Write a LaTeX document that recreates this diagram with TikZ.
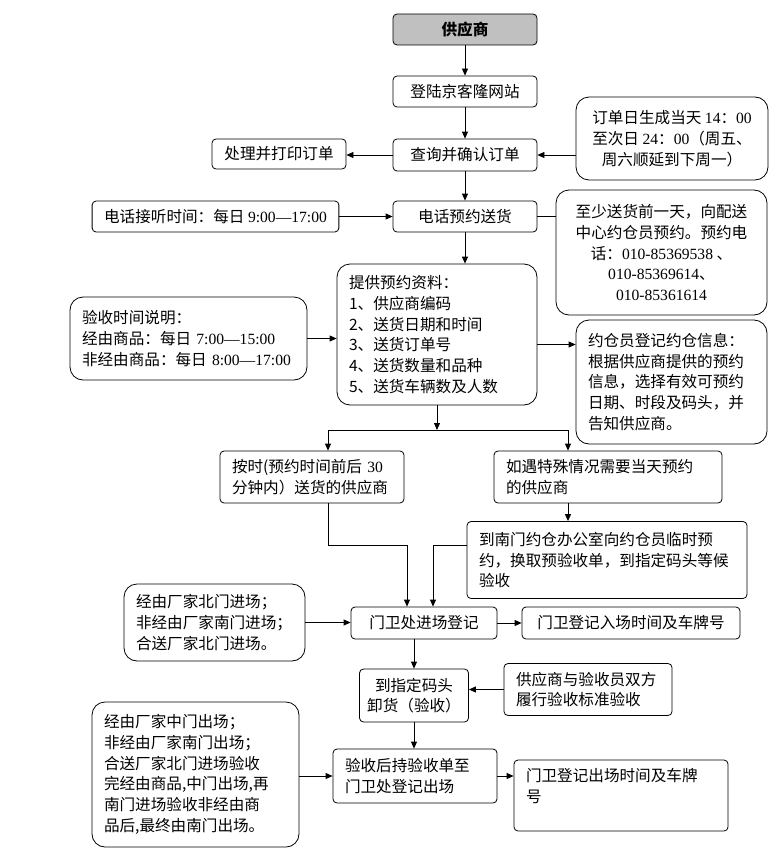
\documentclass[tikz,border=0pt]{standalone}
\usepackage{fontspec}
\setmainfont{Noto Sans CJK SC}
\newfontfamily\tnr{Liberation Serif}
\usetikzlibrary{arrows.meta}
\definecolor{hdgray}{RGB}{192,192,192}
\newcommand\dig[1]{{\tnr #1}}

\begin{document}
\begin{tikzpicture}[x=1pt,y=-1pt,line width=0.8pt,
  every node/.style={font=\fontsize{15.6}{20.7}\selectfont},
  box/.style={draw,rounded corners=4pt,inner xsep=12pt,inner ysep=0pt,align=center},
  note/.style={rounded corners=13pt},
  lbox/.style={box,align=left},
  >={Triangle[length=7pt,width=6pt]}]
\useasboundingbox (0,0) rectangle (780,859);

% main column
\node[box,fill=hdgray,minimum width=144,minimum height=31] (m1) at (465,29.5) {\textbf{供应商}};
\node[box,minimum width=144,minimum height=31] (m2) at (465,91.5) {登陆京客隆网站};
\node[box,minimum width=144,minimum height=32] (m3) at (465,155) {查询并确认订单};
\node[box,minimum width=144,minimum height=31] (m4) at (465,216.5) {电话预约送货};
\node[lbox,note,text width=176pt,minimum height=141] (m5) at (437,334.5)
  {提供预约资料：\\1、供应商编码\\2、送货日期和时间\\3、送货订单号\\4、送货数量和品种\\5、送货车辆数及人数};
\node[box,minimum width=146,minimum height=32] (m6) at (424,623) {门卫处进场登记};
\node[box,inner xsep=4pt,minimum width=109,minimum height=53] (m7) at (414,695.5) {到指定码头\\卸货（验收）};
\node[lbox,text width=140pt,minimum height=54] (m8) at (415,776) {验收后持验收单至\\门卫处登记出场};

% left side
\node[box,minimum width=134,minimum height=30] (l3) at (279,154) {处理并打印订单};
\node[box,minimum width=243,minimum height=31] (l4) at (215.5,216.5) {电话接听时间：每日 \dig{9:00—17:00}};
\node[lbox,note,text width=213pt,minimum height=83] (l5) at (188.5,338.5)
  {验收时间说明：\\经由商品：每日 \dig{7:00—15:00}\\非经由商品：每日 \dig{8:00—17:00}};
\node[lbox,note,text width=157pt,minimum height=77] (l6) at (214.5,622.5)
  {经由厂家北门进场；\\非经由厂家南门进场；\\合送厂家北门进场。};
\node[lbox,note,text width=183pt,minimum height=145] (l8) at (195.5,774.5)
  {经由厂家中门出场；\\非经由厂家南门出场；\\合送厂家北门进场验收\\完经由商品,中门出场,再\\南门进场验收非经由商\\品后,最终由南门出场。};

% right side
\node[box,note,minimum width=192,minimum height=83] (r3) at (672,138.5)
  {订单日生成当天 \dig{14}：\dig{00}\\至次日 \dig{24}：\dig{00}（周五、\\周六顺延到下周一）};
\node[box,note,minimum width=211,minimum height=125] (r4) at (661.5,252.5)
  {至少送货前一天，向配送\\中心约仓员预约。预约电\\话：\dig{010-85369538} 、\\\dig{010-85369614}、\\\dig{010-85361614}};
\node[lbox,note,text width=167pt,minimum height=124] (r5) at (671.5,382)
  {约仓员登记约仓信息：\\根据供应商提供的预约\\信息，选择有效可预约\\日期、时段及码头，并\\告知供应商。};
\node[box,minimum width=218,minimum height=32] (r6) at (631,623) {门卫登记入场时间及车牌号};
\node[lbox,text width=144pt,minimum height=52] (r7) at (588,689.5) {供应商与验收员双方\\履行验收标准验收};
\node[lbox,text width=190pt,minimum height=71] (r8) at (621,795.5) {门卫登记出场时间及车牌\\号\\~};

% branches
\node[lbox,text width=160pt,minimum height=52] (t1) at (312,477) {按时(预约时间前后 \dig{30}\\分钟内）送货的供应商};
\node[lbox,text width=204pt,minimum height=52] (t2) at (608,477) {如遇特殊情况需要当天预约\\的供应商};
\node[lbox,text width=256pt,minimum height=77] (t3) at (607,560)
  {到南门约仓办公室向约仓员临时预\\约，换取预验收单，到指定码头等候\\验收};

\coordinate (c5) at ([yshift=-10pt]m5.east);
\coordinate (j) at (437,430);
\coordinate (jl) at (328,430);
\coordinate (jr) at (568,430);
\coordinate (k1) at (328,545);
\coordinate (k2) at (407,545);
\coordinate (k3) at (433,545);

\draw[->] (m1) -- (m2);
\draw[->] (m2) -- (m3);
\draw[->] (m3.west) -- (m3.west -| l3.east);
\draw[->] (m3.east -| r3.west) -- (m3.east);
\draw[->] (m3) -- (m4);
\draw[->] (l4) -- (m4);
\draw (m4.east) -- (m4.east -| r4.west);
\draw[->] (m4.south) -- (m4.south |- m5.north);
\draw[->] (l5.east) -- (l5.east -| m5.west);
\draw[->] (c5) -- (c5 -| r5.west);
\draw[->] (m5.south) -- (j);
\draw (jl) -- (jr);
\draw[->] (jl) -- (jl |- t1.north);
\draw[->] (jr) -- (jr |- t2.north);
\draw[->] (jr |- t2.south) -- (jr |- t3.north);
\draw[->] (k1 |- t1.south) -- (k1) -- (k2) -- (k2 |- m6.north);
\draw[->] (k3 -| t3.west) -- (k3) -- (k3 |- m6.north);
\draw[->] (l6.east) -- (l6.east -| m6.west);
\draw[->] (m6) -- (r6);
\draw[->] (m6.south -| m7) -- (m7.north);
\draw[->] (r7.west) -- (r7.west -| m7.east);
\draw[->] (m7.south) -- (m7.south |- m8.north);
\draw[->] (m8.west -| l8.east) -- (m8.west);
\draw[->] (m8.east) -- (m8.east -| r8.west);
\end{tikzpicture}
\end{document}
